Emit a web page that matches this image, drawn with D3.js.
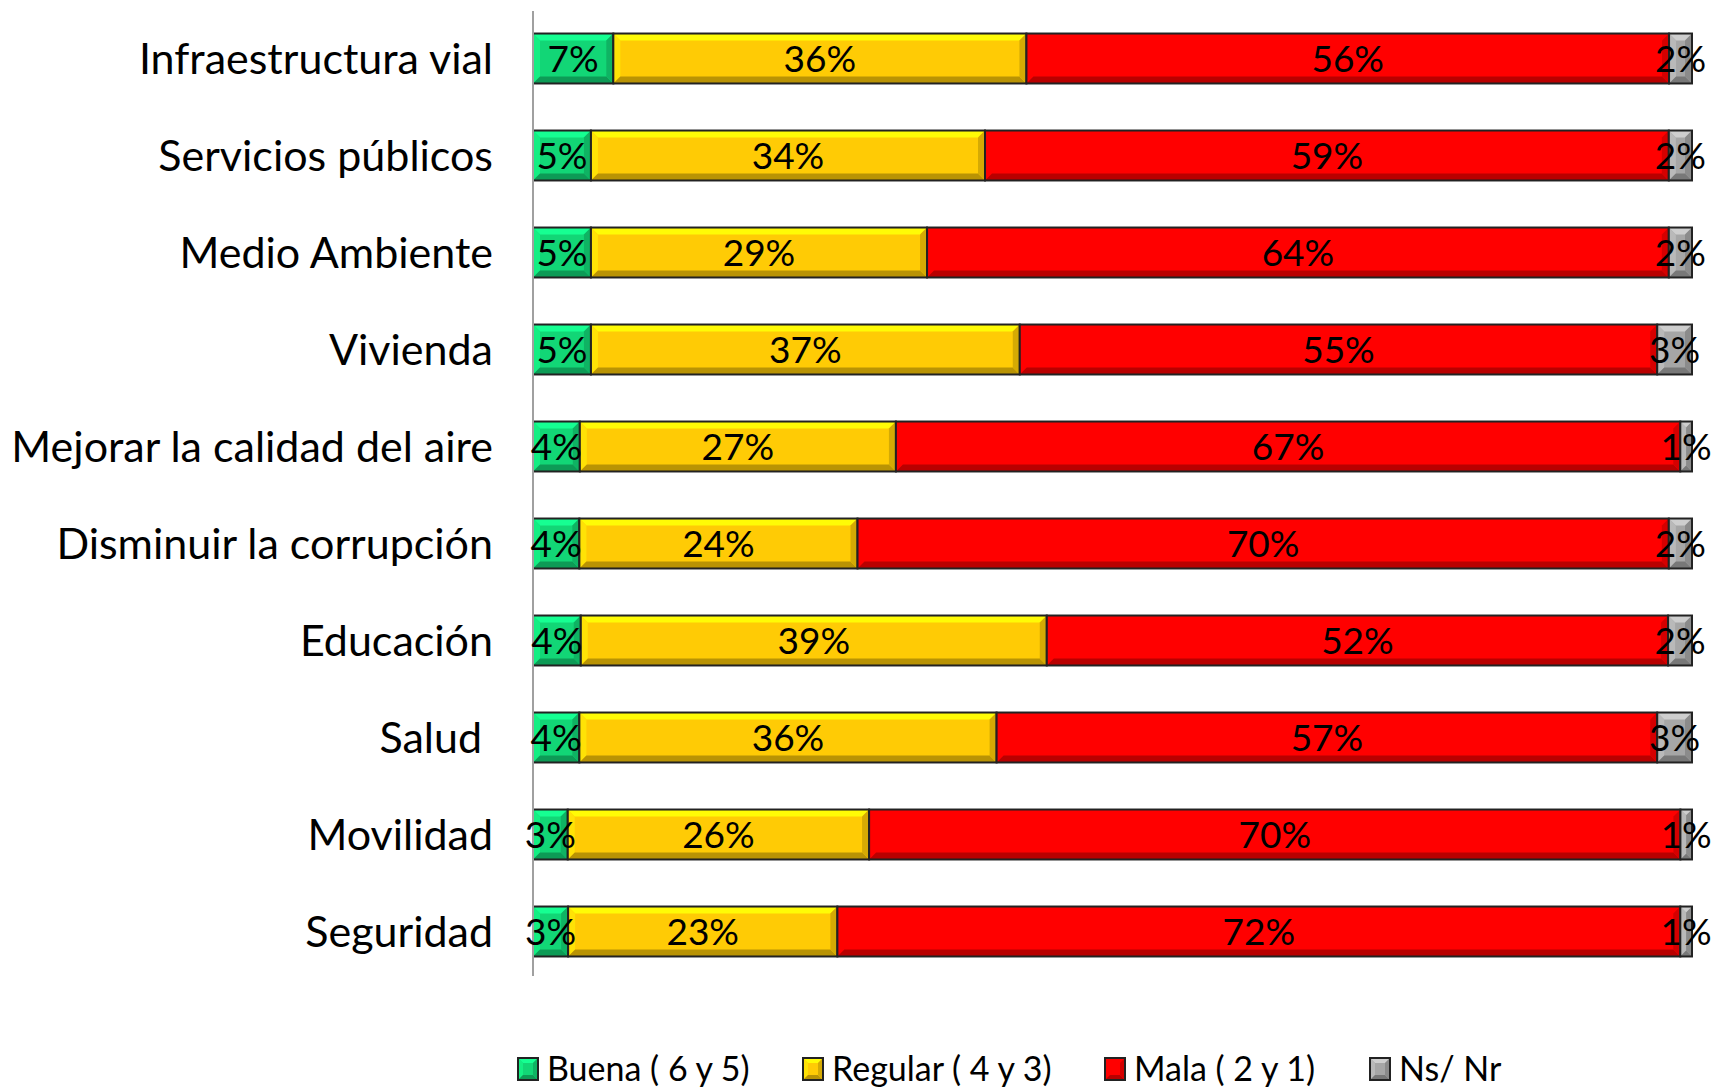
<!DOCTYPE html>
<html>
<head>
<meta charset="utf-8">
<script src="https://cdn.jsdelivr.net/npm/d3@7"></script>
<style>
  body { margin: 0; background: #fff; }
  svg text { font-family: Lato, "Open Sans", sans-serif; fill: #000; }
</style>
</head>
<body>
<div id="chart"></div>
<script>
// categories, top to bottom
const categories = ["Infraestructura vial", "Servicios públicos", "Medio Ambiente", "Vivienda",
  "Mejorar la calidad del aire", "Disminuir la corrupción", "Educación", "Salud ", "Movilidad", "Seguridad"];
const seriesNames = ["Buena ( 6 y 5)", "Regular ( 4 y 3)", "Mala ( 2 y 1)", "Ns/ Nr"];
const buena   = [7, 5, 5, 5, 4, 4, 4, 4, 3, 3];
const regular = [36, 34, 29, 37, 27, 24, 39, 36, 26, 23];
const mala    = [56, 59, 64, 55, 67, 70, 52, 57, 70, 72];
const nsnr    = [2, 2, 2, 3, 1, 2, 2, 3, 1, 1];
const colors  = ["#12d676", "#ffcb05", "#ff0000", "#a6a6a6"];

const width = 1718, height = 1088;
const svg = d3.select("#chart").append("svg").attr("width", width).attr("height", height);

const x = d3.scaleLinear().domain([0, 1]).range([533, 1692]);
const y = d3.scaleBand().domain(categories).range([10, 980]).paddingInner(0.485).paddingOuter(0.2425);

// 100% stacked: normalise each row
const rows = categories.map((c, i) => {
  const vals = [buena[i], regular[i], mala[i], nsnr[i]];
  const total = d3.sum(vals);
  let acc = 0;
  return vals.map((v, k) => {
    const seg = { cat: c, k: k, v: v, x0: acc / total, x1: (acc + v) / total };
    acc += v;
    return seg;
  });
});

function bevel(g, x0, y0, w, h, col, b) {
  const c = d3.color(col);
  const light = c.brighter(0.6).formatHex();
  const lighter = c.brighter(0.3).formatHex();
  const dark = c.darker(0.5).formatHex();
  const darker = c.darker(0.9).formatHex();
  const x1 = x0 + w, y1 = y0 + h;
  const bb = Math.min(b, w / 2, h / 2);
  g.append("rect").attr("x", x0).attr("y", y0).attr("width", w).attr("height", h).attr("fill", col);
  const polys = [
    [[x0, y0], [x1, y0], [x1 - bb, y0 + bb], [x0 + bb, y0 + bb], light],
    [[x0, y0], [x0 + bb, y0 + bb], [x0 + bb, y1 - bb], [x0, y1], lighter],
    [[x0, y1], [x0 + bb, y1 - bb], [x1 - bb, y1 - bb], [x1, y1], darker],
    [[x1, y0], [x1, y1], [x1 - bb, y1 - bb], [x1 - bb, y0 + bb], dark]
  ];
  polys.forEach(p => {
    g.append("polygon").attr("points", p.slice(0, 4).map(d => d.join(",")).join(" ")).attr("fill", p[4]);
  });
  g.append("rect").attr("x", x0).attr("y", y0).attr("width", w).attr("height", h)
    .attr("fill", "none").attr("stroke", "#222").attr("stroke-width", 2);
}

const bars = svg.append("g");
rows.forEach(segs => {
  segs.forEach(s => {
    const g = bars.append("g");
    bevel(g, x(s.x0), y(s.cat), x(s.x1) - x(s.x0), y.bandwidth(), colors[s.k], 7);
  });
});

// vertical axis line
svg.append("line").attr("x1", 533).attr("x2", 533).attr("y1", 11).attr("y2", 976)
  .attr("stroke", "#a0a0a0").attr("stroke-width", 2);

// data labels
rows.forEach(segs => {
  segs.forEach(s => {
    svg.append("text")
      .attr("x", (x(s.x0) + x(s.x1)) / 2)
      .attr("y", y(s.cat) + y.bandwidth() / 2)
      .attr("dy", "0.36em")
      .attr("text-anchor", "middle")
      .style("font-size", "37px")
      .text(s.v + "%");
  });
});

// category labels
svg.append("g").selectAll("text").data(categories).join("text")
  .attr("x", 493)
  .attr("y", d => y(d) + y.bandwidth() / 2)
  .attr("dy", "0.36em")
  .attr("text-anchor", "end")
  .attr("xml:space", "preserve")
  .style("white-space", "pre")
  .style("font-size", "43px")
  .text(d => d);

// legend
const legendX = [518, 803, 1105, 1370];
const lg = svg.append("g");
seriesNames.forEach((n, i) => {
  const g = lg.append("g");
  bevel(g, legendX[i], 1058, 20, 22, colors[i], 5);
  lg.append("text").attr("x", legendX[i] + 29).attr("y", 1069).attr("dy", "0.36em")
    .style("font-size", "34px").text(n);
});
</script>
</body>
</html>
